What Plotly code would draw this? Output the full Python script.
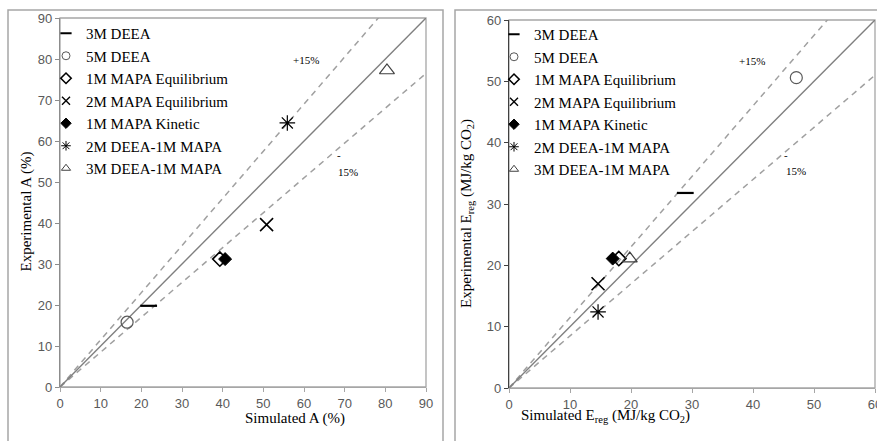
import plotly.graph_objects as go

W, H = 877, 441

series_names = ["3M DEEA", "5M DEEA", "1M MAPA Equilibrium", "2M MAPA Equilibrium",
                "1M MAPA Kinetic", "2M DEEA-1M MAPA", "3M DEEA-1M MAPA"]

# Left panel: absorption A (%)
simA = [21.8, 16.5, 39.3, 50.8, 40.6, 55.9, 80.4]
expA = [19.8, 15.8, 31.2, 39.6, 31.2, 64.4, 77.2]

# Right panel: Ereg (MJ/kg CO2)
simE = [28.9, 47.1, 18.0, 14.6, 17.0, 14.6, 19.8]
expE = [31.8, 50.6, 21.1, 17.0, 21.1, 12.4, 21.1]

# parity / +-15% reference line endpoints
refA_x = [0, 90]
parA_y = [0, 90]
upA_y = [0, 103.5]
loA_y = [0, 76.5]
refE_x = [0, 60]
parE_y = [0, 60]
upE_y = [0, 69]
loE_y = [0, 51]

axis_ticksA = [0, 10, 20, 30, 40, 50, 60, 70, 80, 90]
axis_ticksE = [0, 10, 20, 30, 40, 50, 60]

symbols = ["line-ew", "circle-open", "diamond-open", "x-thin", "diamond", "asterisk-open", "triangle-up-open"]
colors = ["#000000", "#595959", "#000000", "#000000", "#000000", "#000000", "#404040"]
sizes = [12, 12, 11, 13, 10, 13, 13]
lwidths = [2.2, 1.2, 1.6, 1.6, 1, 1.2, 1.2]
leg_sizes = [8, 8, 8, 8, 8, 8, 8]
leg_lwidths = [2.0, 1.0, 1.6, 1.4, 1, 1.0, 1.0]

fig = go.Figure()

def px_x(p):
    return p / W

def px_y(p):
    return 1 - p / H

def add_panel(xs, ys, refx, par, up, lo, xa, ya, leg):
    fig.add_trace(go.Scatter(x=refx, y=up, mode="lines", xaxis=xa, yaxis=ya, showlegend=False,
                             line=dict(color="#a0a0a0", width=1.5, dash="6px,5px"), hoverinfo="skip"))
    fig.add_trace(go.Scatter(x=refx, y=lo, mode="lines", xaxis=xa, yaxis=ya, showlegend=False,
                             line=dict(color="#a0a0a0", width=1.5, dash="6px,5px"), hoverinfo="skip"))
    fig.add_trace(go.Scatter(x=refx, y=par, mode="lines", xaxis=xa, yaxis=ya, showlegend=False,
                             line=dict(color="#7f7f7f", width=1.4), hoverinfo="skip"))
    for i, name in enumerate(series_names):
        fig.add_trace(go.Scatter(
            x=[xs[i]], y=[ys[i]], mode="markers", name=name, xaxis=xa, yaxis=ya, showlegend=False,
            marker=dict(symbol=symbols[i], size=sizes[i], color=colors[i],
                        line=dict(color=colors[i], width=lwidths[i]))))
    # legend entries (smaller symbols, as in the reference legend)
    for i, name in enumerate(series_names):
        fig.add_trace(go.Scatter(
            x=[None], y=[None], mode="markers", name=name, xaxis=xa, yaxis=ya, legend=leg,
            marker=dict(symbol=symbols[i], size=leg_sizes[i], color=colors[i],
                        line=dict(color=colors[i], width=leg_lwidths[i]))))

add_panel(simA, expA, refA_x, parA_y, upA_y, loA_y, "x", "y", "legend")
add_panel(simE, expE, refE_x, parE_y, upE_y, loE_y, "x2", "y2", "legend2")

tickfont = dict(family="Liberation Sans", size=13, color="#595959")
serif = "Liberation Serif"

common = dict(showgrid=False, zeroline=False, ticks="outside", ticklen=4, tickfont=tickfont,
              showline=True, linewidth=1.3, automargin=False, ticklabeloverflow="allow")

fig.update_layout(
    width=W, height=H, margin=dict(l=0, r=0, t=0, b=0, autoexpand=False),
    paper_bgcolor="white", plot_bgcolor="white",
    xaxis=dict(domain=[px_x(60), px_x(426)], range=[0, 90], tickvals=axis_ticksA,
               anchor="y", linecolor="#a6a6a6", tickcolor="#a6a6a6", **common),
    yaxis=dict(domain=[px_y(387), px_y(18)], range=[0, 90], tickvals=axis_ticksA,
               anchor="x", linecolor="#8c8c8c", tickcolor="#8c8c8c", **common),
    xaxis2=dict(domain=[px_x(509), px_x(875)], range=[0, 60], tickvals=axis_ticksE,
                anchor="y2", linecolor="#a6a6a6", tickcolor="#a6a6a6", **common),
    yaxis2=dict(domain=[px_y(388), px_y(20)], range=[0, 60], tickvals=axis_ticksE,
                anchor="x2", linecolor="#404040", tickcolor="#404040", **common),
    legend=dict(x=px_x(46), y=px_y(17), xanchor="left", yanchor="top", bgcolor="rgba(0,0,0,0)",
                font=dict(family=serif, size=15, color="#000000"), tracegroupgap=0),
    legend2=dict(x=px_x(494), y=px_y(18), xanchor="left", yanchor="top", bgcolor="rgba(0,0,0,0)",
                 font=dict(family=serif, size=15, color="#000000"), tracegroupgap=0),
    showlegend=True,
)

shapes = [
    # outer frames
    dict(type="rect", xref="paper", yref="paper", x0=px_x(8), x1=px_x(443), y0=-0.2, y1=px_y(10),
         line=dict(color="#a6a6a6", width=1.5), layer="below"),
    dict(type="rect", xref="paper", yref="paper", x0=px_x(455), x1=1.2, y0=-0.2, y1=px_y(10),
         line=dict(color="#a6a6a6", width=1.5), layer="below"),
    # plot area borders
    dict(type="rect", xref="x domain", yref="y domain", x0=0, x1=1, y0=0, y1=1,
         line=dict(color="#a6a6a6", width=1.3), layer="below"),
    dict(type="rect", xref="x2 domain", yref="y2 domain", x0=0, x1=1, y0=0, y1=1,
         line=dict(color="#a6a6a6", width=1.3), layer="below"),
]
fig.update_layout(shapes=shapes)

ann_font = dict(family=serif, size=11, color="#000000")
title_font = dict(family=serif, size=15, color="#000000")
annotations = [
    dict(x=60.5, y=79.8, xref="x", yref="y", text="+15%", showarrow=False, font=ann_font),
    dict(x=68.5, y=56.5, xref="x", yref="y", text="-", showarrow=False, font=ann_font),
    dict(x=70.8, y=52.5, xref="x", yref="y", text="15%", showarrow=False, font=ann_font),
    dict(x=39.8, y=53.3, xref="x2", yref="y2", text="+15%", showarrow=False, font=ann_font),
    dict(x=45.4, y=38.0, xref="x2", yref="y2", text="-", showarrow=False, font=ann_font),
    dict(x=47.0, y=35.4, xref="x2", yref="y2", text="15%", showarrow=False, font=ann_font),
    dict(x=px_x(243), y=px_y(429), xref="paper", yref="paper", text="Simulated A (%)",
         showarrow=False, font=title_font),
    dict(x=px_x(16), y=px_y(212), xref="paper", yref="paper", text="Experimental A (%)",
         showarrow=False, font=title_font, textangle=-90),
    dict(x=px_x(692), y=px_y(427), xref="paper", yref="paper",
         text="Simulated E<sub>reg</sub> (MJ/kg CO<sub>2</sub>)", showarrow=False, font=title_font),
    dict(x=px_x(467), y=px_y(214), xref="paper", yref="paper",
         text="Experimental E<sub>reg</sub> (MJ/kg CO<sub>2</sub>)", showarrow=False, font=title_font,
         textangle=-90),
]
fig.update_layout(annotations=annotations)

fig.write_html("out.html", config={"displayModeBar": False},
               post_script="document.body.style.margin='0';document.body.style.overflow='hidden';")
